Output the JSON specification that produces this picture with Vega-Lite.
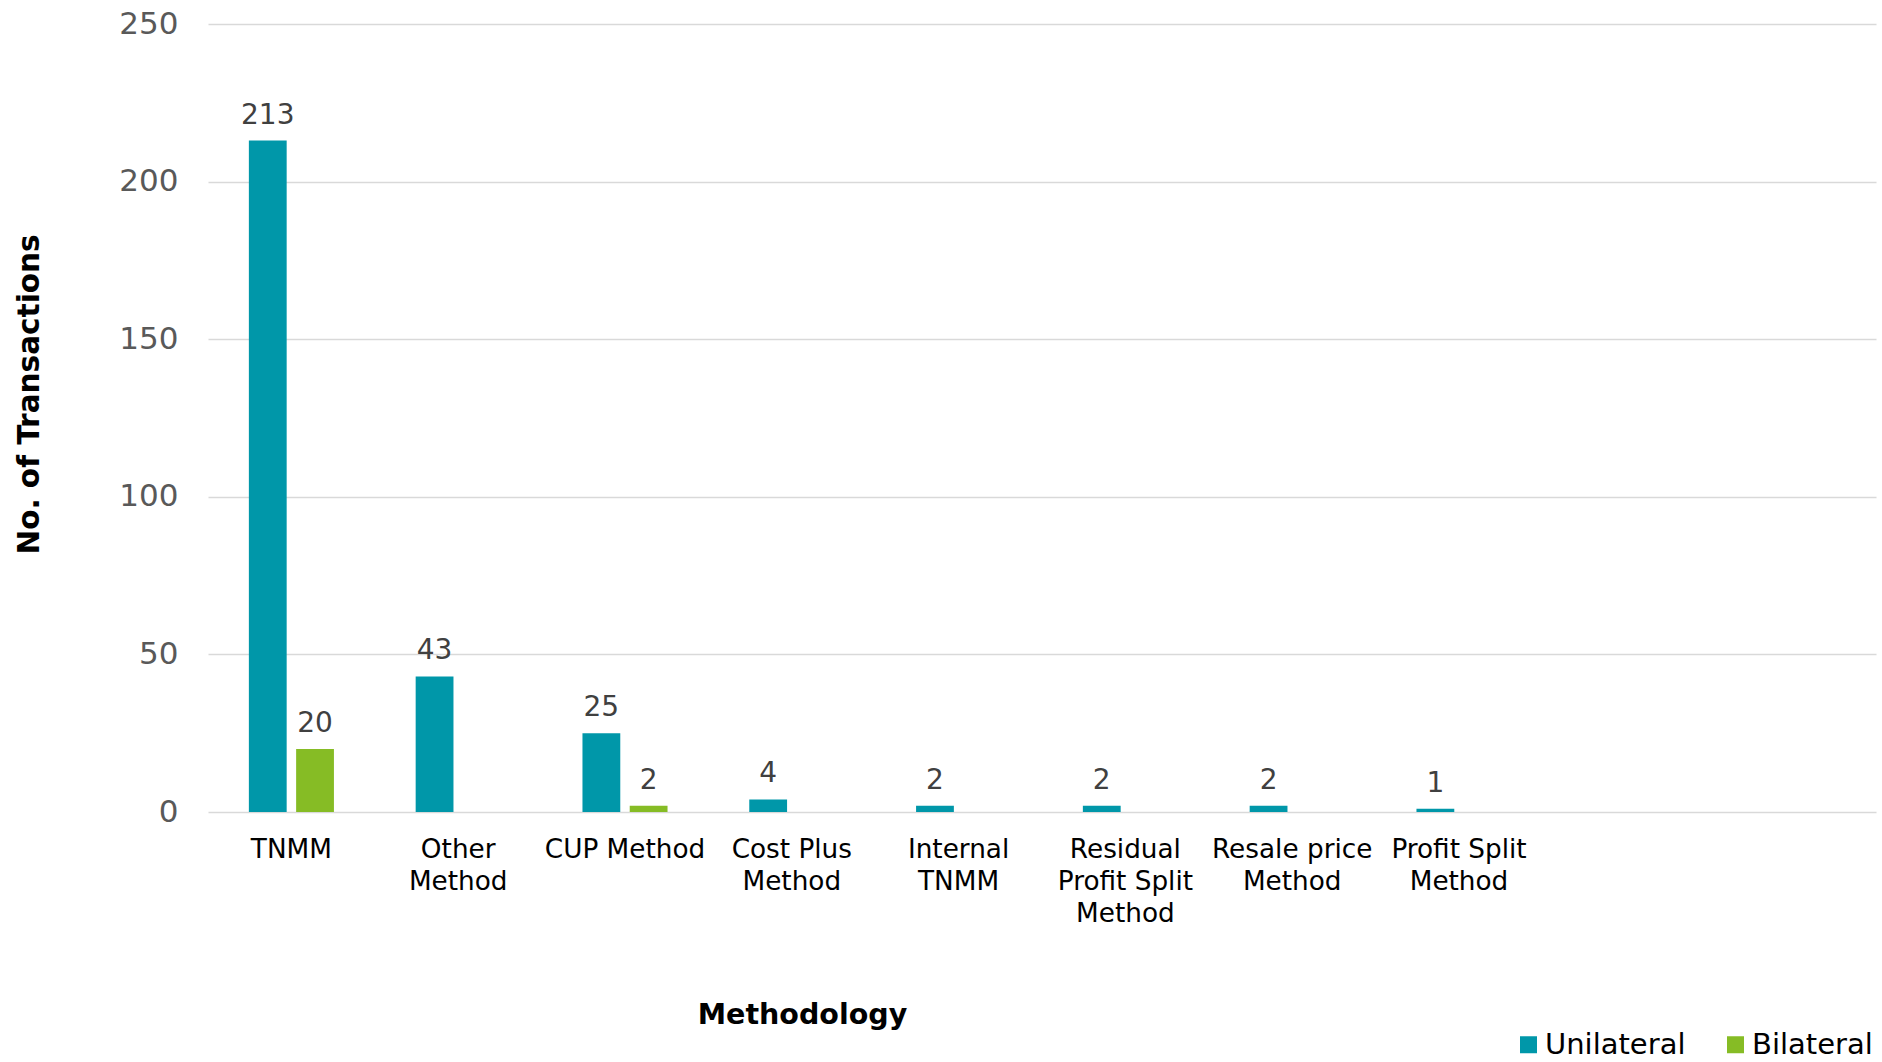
{
  "$schema": "https://vega.github.io/schema/vega-lite/v6.json",
  "width": 1668,
  "height": 788,
  "autosize": {"type": "none"},
  "padding": {"left": 208, "top": 24, "right": 6, "bottom": 250},
  "background": "white",
  "config": {
    "view": {"stroke": null},
    "font": "DejaVu Sans"
  },
  "data": {
    "values": [
      {"method": "TNMM", "type": "Unilateral", "count": 213},
      {"method": "TNMM", "type": "Bilateral", "count": 20},
      {"method": "Other Method", "type": "Unilateral", "count": 43},
      {"method": "CUP Method", "type": "Unilateral", "count": 25},
      {"method": "CUP Method", "type": "Bilateral", "count": 2},
      {"method": "Cost Plus Method", "type": "Unilateral", "count": 4},
      {"method": "Internal TNMM", "type": "Unilateral", "count": 2},
      {"method": "Residual Profit Split Method", "type": "Unilateral", "count": 2},
      {"method": "Resale price Method", "type": "Unilateral", "count": 2},
      {"method": "Profit Split Method", "type": "Unilateral", "count": 1}
    ]
  },
  "encoding": {
    "x": {
      "field": "method",
      "type": "nominal",
      "sort": null,
      "scale": {
        "domain": ["TNMM", "Other Method", "CUP Method", "Cost Plus Method", "Internal TNMM", "Residual Profit Split Method", "Resale price Method", "Profit Split Method", " ", "  "],
        "paddingInner": 0.49,
        "paddingOuter": 0.245
      },
      "axis": {
        "title": "Methodology",
        "titleFont": "DejaVu Sans",
        "titleFontSize": 28.5,
        "titleFontWeight": "bold",
        "titleColor": "#000000",
        "titleX": 594,
        "titleY": 202,
        "titleBaseline": "middle",
        "titleAnchor": null,
        "labelAngle": 0,
        "labelFontSize": 26.3,
        "labelColor": "#000000",
        "labelLineHeight": 32,
        "labelPadding": 24,
        "labelBaseline": "top",
        "labelLimit": 300,
        "ticks": false,
        "domain": false,
        "labelExpr": "datum.label == 'Other Method' ? ['Other','Method'] : datum.label == 'Cost Plus Method' ? ['Cost Plus','Method'] : datum.label == 'Internal TNMM' ? ['Internal','TNMM'] : datum.label == 'Residual Profit Split Method' ? ['Residual','Profit Split','Method'] : datum.label == 'Resale price Method' ? ['Resale price','Method'] : datum.label == 'Profit Split Method' ? ['Profit Split','Method'] : datum.label"
      }
    },
    "xOffset": {
      "field": "type",
      "type": "nominal",
      "sort": ["Unilateral", "Bilateral"],
      "scale": {"domain": ["Unilateral", "Bilateral"], "paddingInner": 0.2, "paddingOuter": 0}
    },
    "y": {
      "field": "count",
      "type": "quantitative",
      "scale": {"domain": [0, 250], "nice": false},
      "axis": {
        "title": "No. of Transactions",
        "titleFont": "DejaVu Sans",
        "titleFontSize": 29.5,
        "titleFontWeight": "bold",
        "titleColor": "#000000",
        "titleAngle": -90,
        "titleX": -179,
        "titleY": 370,
        "titleAlign": "center",
        "titleBaseline": "middle",
        "titleAnchor": null,
        "values": [0, 50, 100, 150, 200, 250],
        "labelFontSize": 31,
        "labelColor": "#595959",
        "labelPadding": 30,
        "ticks": false,
        "domain": false,
        "grid": true,
        "gridColor": "#d9d9d9",
        "gridWidth": 1.5
      }
    }
  },
  "layer": [
    {
      "mark": {"type": "bar"},
      "encoding": {
        "color": {
          "field": "type",
          "type": "nominal",
          "scale": {"domain": ["Unilateral", "Bilateral"], "range": ["#0097A9", "#86BC25"]},
          "legend": {
            "title": null,
            "orient": "none",
            "direction": "horizontal",
            "legendX": 1306,
            "legendY": 1006,
            "padding": 0,
            "symbolType": "square",
            "symbolSize": 289,
            "symbolStrokeWidth": 0,
            "labelFontSize": 29,
            "labelColor": "#000000",
            "labelOffset": 2,
            "columnPadding": 35
          }
        }
      }
    },
    {
      "mark": {"type": "text", "baseline": "alphabetic", "dy": -17, "fontSize": 28, "color": "#404040"},
      "encoding": {
        "text": {"field": "count", "type": "quantitative"}
      }
    }
  ]
}
